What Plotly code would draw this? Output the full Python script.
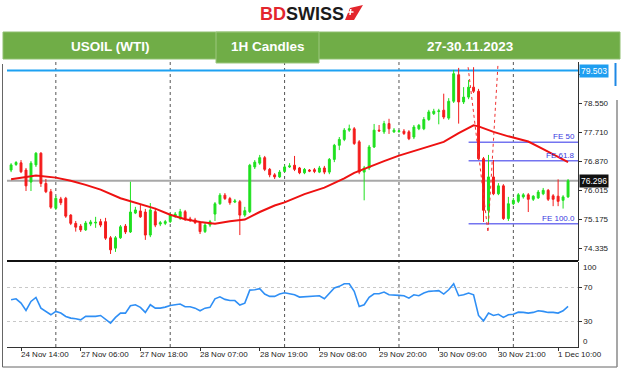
import plotly.graph_objects as go

# ---------------- data ----------------
bars = list(range(113))
opens = [76.61, 76.77, 76.82, 76.61, 76.26, 76.76, 77.10, 76.22, 75.98, 75.50,
         75.77, 75.79, 75.30, 75.06, 74.98, 74.87, 75.04, 75.07, 75.11, 75.11,
         74.64, 74.34, 74.64, 74.98, 74.81, 75.36, 75.42, 75.39, 74.72, 75.40,
         75.04, 75.06, 75.11, 75.27, 75.21, 75.40, 75.19, 75.16, 75.08, 74.82,
         75.01, 75.33, 75.63, 75.88, 75.78, 75.68, 75.69, 75.30, 75.40, 76.70,
         76.81, 76.97, 76.63, 76.47, 76.41, 76.57, 76.70, 76.75, 76.67, 76.53,
         76.61, 76.62, 76.55, 76.67, 76.55, 76.92, 77.33, 77.50, 77.77, 77.81,
         77.43, 76.55, 76.67, 77.28, 77.77, 77.72, 77.96, 77.72, 77.73, 77.74,
         77.72, 77.57, 77.81, 77.81, 78.08, 78.25, 78.31, 78.35, 78.12, 78.61,
         79.38, 78.59, 78.73, 79.02, 78.90, 76.94, 75.44, 76.41, 75.92, 76.15,
         75.20, 75.63, 75.70, 75.83, 75.89, 75.76, 75.80, 75.92, 76.02, 75.86,
         75.85, 75.73, 75.83]
highs = [76.81, 76.87, 76.90, 76.67, 76.87, 77.13, 77.13, 76.35, 76.06, 75.86,
         75.83, 75.83, 75.33, 75.13, 75.04, 75.13, 75.16, 75.25, 75.19, 75.22,
         74.69, 74.69, 75.01, 75.04, 76.27, 75.54, 75.60, 75.48, 75.65, 75.51,
         75.13, 75.16, 75.36, 75.39, 75.48, 75.45, 75.25, 75.22, 75.13, 75.07,
         75.16, 75.68, 75.94, 75.94, 75.83, 75.77, 75.74, 75.54, 76.79, 76.90,
         77.05, 77.02, 76.67, 76.52, 76.61, 76.76, 76.81, 77.02, 76.70, 76.67,
         76.64, 76.67, 76.73, 76.73, 76.96, 77.37, 77.57, 77.83, 77.93, 77.86,
         77.48, 76.73, 77.34, 77.95, 77.92, 78.04, 78.10, 77.83, 77.77, 77.80,
         77.77, 77.92, 77.95, 78.15, 78.36, 78.39, 78.39, 78.83, 78.70, 79.52,
         79.58, 79.02, 79.23, 79.60, 78.97, 76.99, 77.05, 76.90, 76.23, 76.20,
         75.83, 75.80, 75.94, 75.94, 75.94, 75.88, 76.03, 76.09, 76.06, 75.91,
         76.34, 75.88, 76.35]
lows = [76.55, 76.73, 76.52, 76.00, 76.00, 76.70, 76.12, 75.94, 75.48, 75.45,
        75.59, 75.22, 75.01, 74.82, 74.81, 74.84, 74.98, 74.93, 74.95, 74.58,
        74.17, 74.23, 74.61, 74.75, 74.78, 75.33, 75.22, 74.58, 74.66, 74.95,
        74.98, 75.01, 75.07, 75.22, 75.16, 75.13, 75.10, 75.04, 74.75, 74.78,
        74.95, 75.13, 75.60, 75.74, 75.60, 75.65, 74.72, 75.25, 75.36, 76.64,
        76.76, 76.58, 76.40, 76.35, 76.38, 76.55, 76.67, 76.58, 76.49, 76.49,
        76.55, 76.52, 76.52, 76.49, 76.49, 76.84, 77.19, 77.45, 77.72, 77.34,
        76.49, 75.73, 76.61, 77.25, 77.72, 77.66, 77.66, 77.69, 77.69, 77.63,
        77.48, 77.51, 77.77, 77.77, 78.04, 78.21, 77.94, 78.09, 78.07, 78.56,
        77.96, 78.53, 78.67, 78.85, 76.90, 75.10, 75.10, 75.88, 75.88, 75.16,
        75.13, 75.59, 75.65, 75.78, 75.39, 75.71, 75.77, 75.88, 75.71, 75.56,
        75.56, 75.49, 75.80]
closes = [76.76, 76.83, 76.56, 76.15, 76.81, 77.10, 76.22, 75.98, 75.53, 75.79,
          75.66, 75.27, 75.06, 74.95, 74.87, 75.07, 75.10, 75.09, 75.01, 74.63,
          74.29, 74.64, 74.96, 74.81, 75.39, 75.45, 75.25, 74.72, 75.45, 75.01,
          75.08, 75.11, 75.30, 75.33, 75.40, 75.19, 75.16, 75.08, 74.82, 75.01,
          75.11, 75.63, 75.88, 75.78, 75.66, 75.71, 75.30, 75.43, 76.75, 76.84,
          76.97, 76.63, 76.47, 76.41, 76.55, 76.70, 76.73, 76.63, 76.53, 76.63,
          76.58, 76.57, 76.67, 76.55, 76.92, 77.33, 77.50, 77.77, 77.81, 77.38,
          76.55, 76.67, 77.28, 77.77, 77.75, 77.96, 77.81, 77.77, 77.75, 77.67,
          77.52, 77.86, 77.91, 78.08, 78.30, 78.32, 78.33, 78.15, 78.61, 79.41,
          78.59, 78.73, 79.02, 78.90, 76.94, 75.44, 76.41, 75.92, 76.15, 75.20,
          75.63, 75.73, 75.89, 75.89, 75.76, 75.85, 75.97, 76.02, 75.76, 75.76,
          75.70, 75.83, 76.296]

ma_bars = [0, 2, 5, 9, 12, 15, 18, 22, 25, 29, 32, 35, 38, 41, 44, 47, 50, 53, 55,
           59, 63, 67, 69, 72, 74, 75, 78, 82, 87, 90, 93, 94, 97, 100, 104, 107,
           111, 112]
ma_vals = [76.34, 76.39, 76.45, 76.39, 76.30, 76.18, 76.04, 75.79, 75.66, 75.49,
           75.31, 75.18, 75.10, 75.05, 75.12, 75.17, 75.39, 75.58, 75.67, 75.91,
           76.10, 76.37, 76.53, 76.71, 76.83, 76.87, 77.03, 77.20, 77.43, 77.68,
           77.91, 77.88, 77.72, 77.59, 77.44, 77.22, 76.90, 76.84]

rsi = [55.4, 56.6, 51.5, 42.9, 53.5, 58.2, 45.6, 41.8, 37.8, 41.8,
       39.8, 35.9, 33.9, 33.1, 31.9, 35.9, 35.9, 35.9, 37.0, 32.7,
       28.0, 34.7, 39.8, 39.8, 48.4, 49.6, 46.5, 40.6, 49.6, 45.6,
       45.6, 46.8, 48.8, 49.6, 50.4, 47.2, 47.2, 45.6, 42.5, 45.6,
       46.5, 56.6, 58.9, 55.9, 54.5, 54.5, 49.2, 51.5, 66.8, 67.2,
       68.4, 62.1, 59.4, 59.4, 62.1, 63.7, 62.1, 61.3, 58.6, 59.0,
       59.0, 59.0, 60.2, 56.6, 63.3, 69.2, 71.2, 74.2, 74.2, 65.3,
       47.6, 49.6, 58.2, 62.5, 62.5, 64.5, 61.3, 61.3, 60.6, 60.2,
       57.4, 61.3, 60.2, 63.3, 65.3, 65.7, 66.1, 62.1, 67.2, 74.2,
       60.2, 61.3, 63.3, 61.3, 37.0, 30.7, 39.8, 37.0, 38.4, 34.7,
       37.8, 38.4, 40.9, 40.6, 39.8, 40.6, 42.5, 41.8, 40.6, 40.6,
       39.8, 42.5, 47.6]

x_tick_bars = [2, 14, 26, 38, 50, 62, 74, 86, 98, 110]
x_tick_text = ["24 Nov 14:00", "27 Nov 06:00", "27 Nov 18:00", "28 Nov 07:00",
               "28 Nov 19:00", "29 Nov 08:00", "29 Nov 20:00", "30 Nov 09:00",
               "30 Nov 21:00", "1 Dec 10:00"]
day_sep_bars = [9, 32, 55, 78, 101]
price_ticks = [79.390, 78.550, 77.710, 76.870, 76.015, 75.175, 74.335]
price_tick_text = ["79.390", "78.550", "77.710", "76.870", "76.015", "75.175", "74.335"]
rsi_levels = [70, 30]
high_line = 79.503
last_price = 76.296
fe_levels = [77.42, 76.88, 75.05]
fe_names = ["FE 50", "FE 61.8", "FE 100.0"]
fe_start_bar = 92
fe_path_bars = [91.9, 95.9, 97.9]
fe_path_prices = [79.60, 74.80, 79.66]
header_cells = ["USOIL (WTI)", "1H Candles", "27-30.11.2023"]

# ---------------- layout geometry ----------------
W, H = 624, 372
ML, MR, MT, MB = 7, 46, 62, 25
PW = W - ML - MR
PH = H - MT - MB
X_RANGE = [-0.82, 114.0]
Y_RANGE = [73.966, 79.751]


def px(x):
    return (x - ML) / PW


def py(y):
    return (H - MB - y) / PH


FONT = "Liberation Sans, Arial, sans-serif"
GREEN = "#1fe01f"
RED = "#f41c1c"

fig = go.Figure()

fig.add_trace(go.Candlestick(
    x=bars, open=opens, high=highs, low=lows, close=closes,
    xaxis="x", yaxis="y", whiskerwidth=0,
    increasing=dict(line=dict(color=GREEN, width=1), fillcolor=GREEN),
    decreasing=dict(line=dict(color=RED, width=1), fillcolor=RED),
    hoverinfo="skip", showlegend=False))

fig.add_trace(go.Scatter(
    x=ma_bars, y=ma_vals, mode="lines", xaxis="x", yaxis="y",
    line=dict(color="#ee1111", width=2), hoverinfo="skip", showlegend=False))

fig.add_trace(go.Scatter(
    x=fe_path_bars, y=fe_path_prices, mode="lines", xaxis="x", yaxis="y",
    line=dict(color="#f03030", width=1, dash="dot"), hoverinfo="skip",
    showlegend=False))

fig.add_trace(go.Scatter(
    x=bars, y=rsi, mode="lines", xaxis="x2", yaxis="y2",
    line=dict(color="#2f8ff5", width=1.6), hoverinfo="skip", showlegend=False))

shapes = []
# day separators
for b in day_sep_bars:
    shapes.append(dict(type="line", xref="x", yref="paper", x0=b, x1=b, y0=0, y1=1,
                       line=dict(color="#555555", width=1, dash="dot"), layer="below"))
# high line and last price line
shapes.append(dict(type="line", xref="paper", yref="y", x0=0, x1=1, y0=high_line, y1=high_line,
                   line=dict(color="#1da1f2", width=2), layer="below"))
shapes.append(dict(type="line", xref="paper", yref="y", x0=0, x1=1, y0=last_price, y1=last_price,
                   line=dict(color="#a8a8a8", width=2), layer="below"))
# FE levels
for lv in fe_levels:
    shapes.append(dict(type="line", xref="x", yref="y", x0=fe_start_bar, x1=X_RANGE[1],
                       y0=lv, y1=lv, line=dict(color="#7474f0", width=1.5), layer="below"))
# panel divider
shapes.append(dict(type="line", xref="paper", yref="paper", x0=0, x1=1, y0=py(261), y1=py(261),
                   line=dict(color="#111111", width=2)))
# outer frame
frame = "#666666"
shapes.append(dict(type="line", xref="paper", yref="paper", x0=px(2.5), x1=px(2.5),
                   y0=py(367), y1=py(64), line=dict(color=frame, width=1)))
shapes.append(dict(type="line", xref="paper", yref="paper", x0=px(2.5), x1=px(617),
                   y0=py(367), y1=py(367), line=dict(color=frame, width=1)))
shapes.append(dict(type="line", xref="paper", yref="paper", x0=px(617), x1=px(617),
                   y0=py(367), y1=py(100), line=dict(color="#8a8a8a", width=1.5)))
shapes.append(dict(type="line", xref="paper", yref="paper", x0=px(615.5), x1=px(615.5),
                   y0=py(86), y1=py(63), line=dict(color="#1e88e5", width=2)))
# header bar
HG = "#70ad47"
shapes.append(dict(type="rect", xref="paper", yref="paper", x0=px(3), x1=px(620),
                   y0=py(59), y1=py(32), fillcolor=HG, line=dict(color="#8fbf70", width=1)))
shapes.append(dict(type="rect", xref="paper", yref="paper", x0=px(216), x1=px(319),
                   y0=py(63), y1=py(32), fillcolor=HG, line=dict(color="#9cc77f", width=1)))
# logo flag
fx = [px(v) for v in (345, 350, 363, 354)]
fy = [py(v) for v in (20, 8, 5, 20)]
shapes.append(dict(type="path", xref="paper", yref="paper",
                   path=f"M {fx[0]},{fy[0]} L {fx[1]},{fy[1]} L {fx[2]},{fy[2]} L {fx[3]},{fy[3]} Z",
                   fillcolor="#e3262d", line=dict(width=0)))
shapes.append(dict(type="line", xref="paper", yref="paper", x0=px(347.5), x1=px(353.5),
                   y0=py(12), y1=py(12), line=dict(color="white", width=1.5)))
shapes.append(dict(type="line", xref="paper", yref="paper", x0=px(350.8), x1=px(350.0),
                   y0=py(9), y1=py(15), line=dict(color="white", width=1.5)))

ann = []
# logo
ann.append(dict(xref="paper", yref="paper", x=px(301.5), y=py(14), showarrow=False,
                text="<b><span style='color:#e3262d'>BD</span><span style='color:#1b1b1b'>SWISS</span></b>",
                font=dict(family=FONT, size=18), xanchor="center", yanchor="middle"))
# header texts
for txt, cx in zip(header_cells, [110, 268, 470]):
    ann.append(dict(xref="paper", yref="paper", x=px(cx), y=py(46.5), showarrow=False,
                    text=f"<b>{txt}</b>", font=dict(family=FONT, size=13.5, color="white"),
                    xanchor="center", yanchor="middle"))
# FE labels
for lv, nm in zip(fe_levels, fe_names):
    ann.append(dict(xref="paper", yref="y", x=1, y=lv, showarrow=False, text=nm,
                    font=dict(family=FONT, size=8, color="#3a3ae0"),
                    xanchor="right", yanchor="bottom", xshift=-1, yshift=-1))
# price boxes
ann.append(dict(xref="paper", yref="y", x=1, y=high_line, showarrow=False, text="79.503",
                font=dict(family=FONT, size=8.5, color="white"), bgcolor="#1e9ef0",
                xanchor="left", yanchor="middle", xshift=1, borderpad=1))
ann.append(dict(xref="paper", yref="y", x=1, y=last_price, showarrow=False, text="76.296",
                font=dict(family=FONT, size=8.5, color="white"), bgcolor="#111111",
                xanchor="left", yanchor="middle", xshift=1, borderpad=1))
# RSI 100 / 0 labels
ann.append(dict(xref="paper", yref="y2", x=1, y=100, showarrow=False, text="100",
                font=dict(family=FONT, size=8, color="#222222"),
                xanchor="left", yanchor="top", xshift=3, yshift=1))
ann.append(dict(xref="paper", yref="y2", x=1, y=0, showarrow=False, text="0",
                font=dict(family=FONT, size=8, color="#222222"),
                xanchor="left", yanchor="bottom", xshift=3, yshift=-1))
# x labels (left aligned at tick)
for b, t in zip(x_tick_bars, x_tick_text):
    ann.append(dict(xref="x2", yref="paper", x=b, y=py(348), showarrow=False, text=t,
                    font=dict(family=FONT, size=8, color="#222222"),
                    xanchor="left", yanchor="top", xshift=-2))

fig.update_layout(
    width=W, height=H,
    margin=dict(l=ML, r=MR, t=MT, b=MB, pad=0),
    paper_bgcolor="white", plot_bgcolor="white",
    showlegend=False, boxgap=0.45,
    font=dict(family=FONT, size=8, color="#222222"),
    xaxis=dict(domain=[0, 1], anchor="y", range=X_RANGE, showticklabels=False,
               showgrid=False, zeroline=False, showline=False, ticks="",
               rangeslider=dict(visible=False), fixedrange=True),
    xaxis2=dict(domain=[0, 1], anchor="y2", range=X_RANGE, tickvals=x_tick_bars,
                showticklabels=False, ticks="outside", ticklen=3, tickcolor="#333333",
                showgrid=False, zeroline=False, showline=True, linecolor="#333333",
                linewidth=1),
    yaxis=dict(domain=[py(261), 1], anchor="x", range=Y_RANGE, side="right",
               tickvals=price_ticks, ticktext=price_tick_text, ticks="outside",
               ticklen=3, tickcolor="#333333", showgrid=False, zeroline=False,
               showline=True, linecolor="#333333", linewidth=1,
               tickfont=dict(family=FONT, size=8, color="#222222")),
    yaxis2=dict(domain=[0, py(261.8)], anchor="x2", range=[0, 100], side="right",
                tickvals=rsi_levels, ticks="outside", ticklen=3, tickcolor="#333333",
                showgrid=True, gridcolor="#c8c8c8", griddash="dot", gridwidth=1,
                zeroline=False, showline=True, linecolor="#333333", linewidth=1,
                tickfont=dict(family=FONT, size=8, color="#222222")),
    shapes=shapes, annotations=ann,
)

fig.write_html("out.html", config={"displayModeBar": False},
               post_script="document.body.style.margin='0px';document.body.style.padding='0px';")
